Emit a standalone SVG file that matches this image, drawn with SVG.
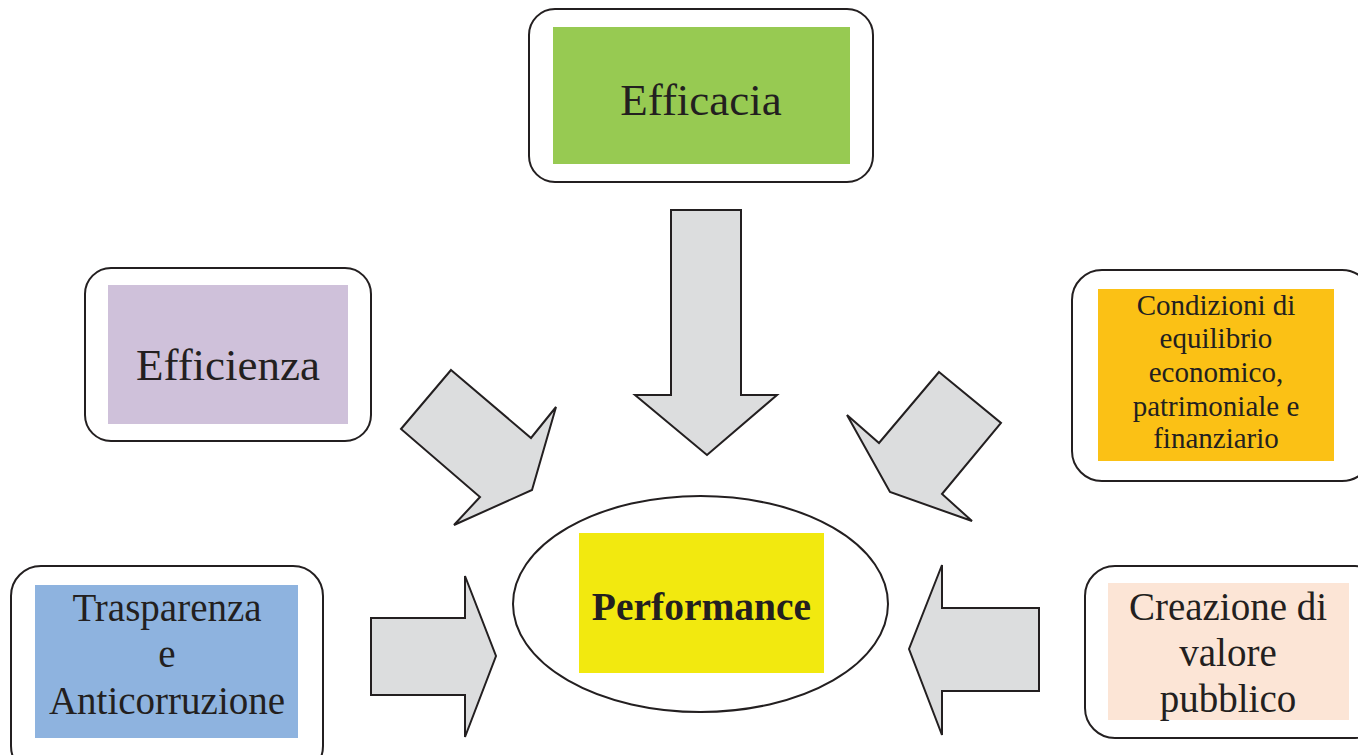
<svg xmlns="http://www.w3.org/2000/svg" width="1358" height="755" viewBox="0 0 1358 755">
<style>
.frame{fill:#fff;stroke:#231F20;stroke-width:2}
.arrow{fill:#DCDDDE;stroke:#231F20;stroke-width:2;stroke-linejoin:miter}
text{font-family:"Liberation Serif","Times New Roman",serif;fill:#231F20;text-anchor:middle}
</style>
<rect width="1358" height="755" fill="#fff"/>
<g id="efficacia">
<rect class="frame" x="529" y="9" width="344" height="173" rx="26"/>
<rect x="553" y="27" width="297" height="137" fill="#97CA52"/>
<text x="701" y="115" font-size="45">Efficacia</text>
</g>
<g id="efficienza">
<rect class="frame" x="85" y="268" width="286" height="173" rx="26"/>
<rect x="108" y="285" width="240" height="139" fill="#CFC1DA"/>
<text x="228" y="380" font-size="45">Efficienza</text>
</g>
<g id="condizioni">
<rect class="frame" x="1072" y="270" width="300" height="211" rx="30"/>
<rect x="1098" y="289" width="236" height="172" fill="#FBC115"/>
<text x="1216" y="315" font-size="29">Condizioni di</text>
<text x="1216" y="348" font-size="29">equilibrio</text>
<text x="1216" y="382" font-size="29">economico,</text>
<text x="1216" y="416" font-size="29">patrimoniale e</text>
<text x="1216" y="448" font-size="29">finanziario</text>
</g>
<g id="trasparenza">
<rect class="frame" x="11" y="566" width="312" height="210" rx="30"/>
<rect x="35" y="585" width="263" height="153" fill="#8EB3DF"/>
<text x="167" y="621" font-size="39">Trasparenza</text>
<text x="167" y="667" font-size="39">e</text>
<text x="167" y="714" font-size="39">Anticorruzione</text>
</g>
<g id="creazione">
<rect class="frame" x="1085" y="566" width="300" height="172" rx="30"/>
<rect x="1108" y="583" width="241" height="137" fill="#FCE5D6"/>
<text x="1228" y="620" font-size="39">Creazione di</text>
<text x="1228" y="666" font-size="39">valore</text>
<text x="1228" y="712" font-size="39">pubblico</text>
</g>
<g id="performance">
<ellipse cx="700.5" cy="604" rx="187.5" ry="108" fill="#fff" stroke="#231F20" stroke-width="2"/>
<rect x="579" y="533" width="245" height="140" fill="#F2E90F"/>
<text x="701.5" y="620" font-size="39.5" font-weight="bold">Performance</text>
</g>
<g id="connectors">
<polygon class="arrow" points="671,210 741,210 741,395 777,395 707,455 635,395 671,395"/>
<polygon class="arrow" points="451,370 531,438 556,407 532,490 454,525 480,497 401,429"/>
<polygon class="arrow" points="939,372 1001,423 942,494 972,521 890,492 847,415 879,443"/>
<polygon class="arrow" points="371,618 465,618 465,576 496,656 465,737 465,695 371,695"/>
<polygon class="arrow" points="1039,608 942,608 942,565 909,649 942,735 942,691 1039,691"/>
</g>
</svg>
